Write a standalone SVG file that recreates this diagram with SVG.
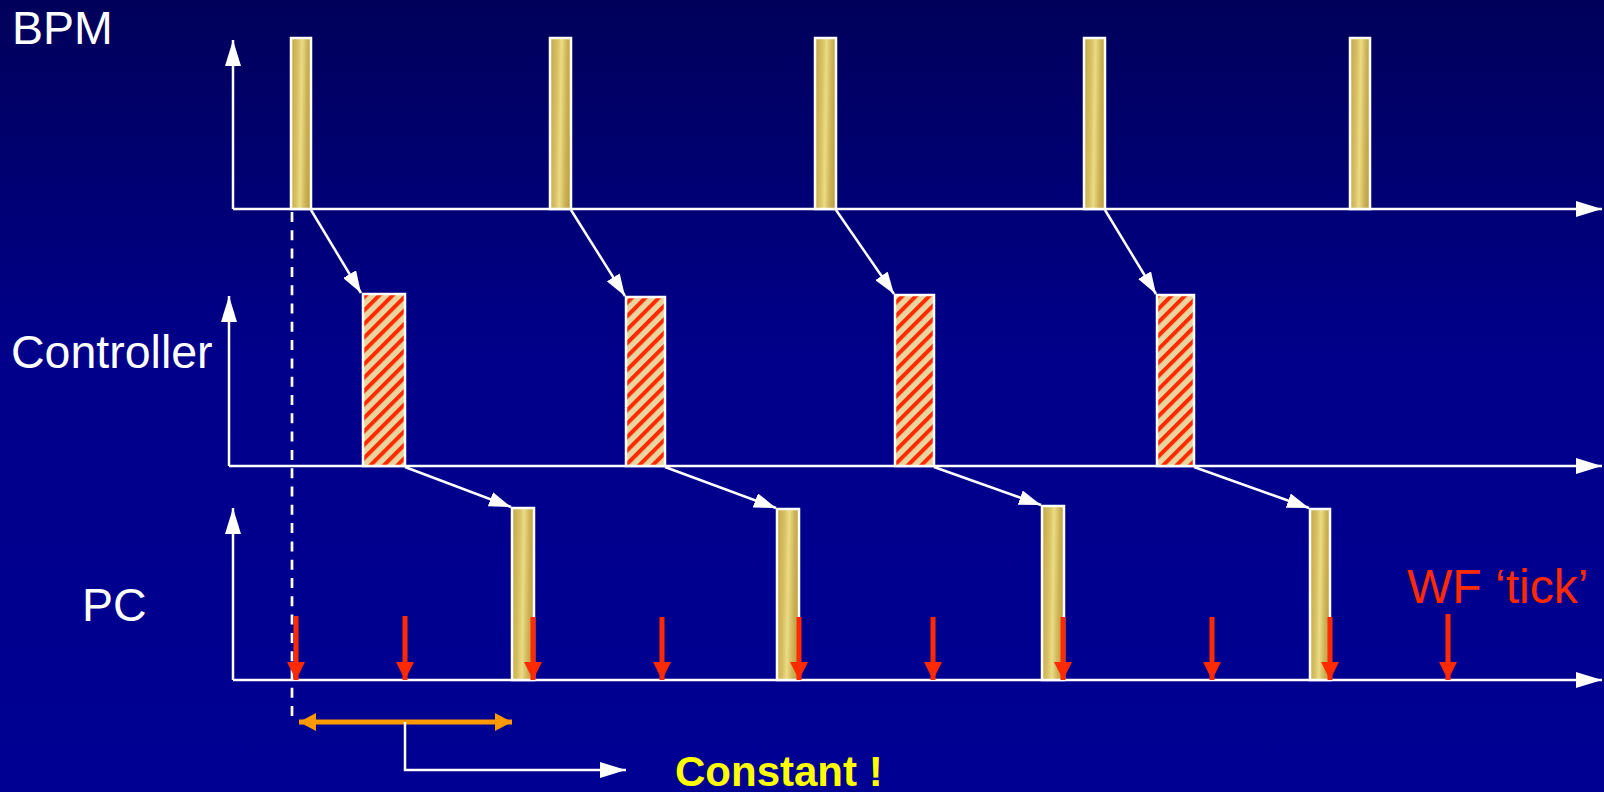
<svg xmlns="http://www.w3.org/2000/svg" width="1604" height="792" viewBox="0 0 1604 792">
  <defs>
    <linearGradient id="bg" x1="0" y1="0" x2="0" y2="1">
      <stop offset="0" stop-color="#00005a"/>
      <stop offset="0.45" stop-color="#00008a"/>
      <stop offset="1" stop-color="#000092"/>
    </linearGradient>
    <linearGradient id="gold" x1="0" y1="0" x2="1" y2="0.12">
      <stop offset="0" stop-color="#c2a64a"/>
      <stop offset="0.35" stop-color="#d8c062"/>
      <stop offset="0.55" stop-color="#eadc86"/>
      <stop offset="0.8" stop-color="#ceb456"/>
      <stop offset="1" stop-color="#bfa246"/>
    </linearGradient>
    <pattern id="hatch" patternUnits="userSpaceOnUse" width="9.5" height="9.5" patternTransform="rotate(45)">
      <rect width="9.5" height="9.5" fill="#e8d6a0"/>
      <rect width="4" height="9.5" fill="#ff2a00"/>
    </pattern>
    <marker id="axisHead" markerUnits="userSpaceOnUse" markerWidth="26" markerHeight="16" refX="26" refY="8" orient="auto">
      <path d="M0,0 L26,8 L0,16 z" fill="#ffffff"/>
    </marker>
    <marker id="linkHead" markerUnits="userSpaceOnUse" markerWidth="22" markerHeight="15" refX="22" refY="7.5" orient="auto">
      <path d="M0,0 L22,7.5 L0,15 z" fill="#ffffff"/>
    </marker>
    <marker id="tickHead" markerUnits="userSpaceOnUse" markerWidth="18" markerHeight="18" refX="18" refY="9" orient="auto">
      <path d="M0,0 L18,9 L0,18 z" fill="#ff2a00"/>
    </marker>
    <marker id="spanHead" markerUnits="userSpaceOnUse" markerWidth="18" markerHeight="18" refX="17" refY="9" orient="auto-start-reverse">
      <path d="M0,0 L17,9 L0,18 z" fill="#ff9900"/>
    </marker>
    <style>
      .axis { stroke: #ffffff; stroke-width: 2.5; fill: none; marker-end: url(#axisHead); }
      .link { stroke: #ffffff; stroke-width: 2.5; fill: none; marker-end: url(#linkHead); }
      .tick { stroke: #ff2a00; stroke-width: 5; marker-end: url(#tickHead); }
      .pulse { fill: url(#gold); stroke: #ffffff; stroke-width: 2.5; }
      .calc { fill: url(#hatch); stroke: #ffffff; stroke-width: 2.5; }
      .label { font-family: "Liberation Sans", Arial, sans-serif; font-size: 46.5px; fill: #ffffff; }
    </style>
  </defs>

  <rect width="1604" height="792" fill="url(#bg)"/>

  <!-- time axes for the three rows -->
  <g id="axes">
    <path class="axis" d="M233,209 V40"/>
    <path class="axis" d="M233,209 H1602"/>
    <path class="axis" d="M229,466 V296"/>
    <path class="axis" d="M229,466 H1602"/>
    <path class="axis" d="M233,680 V508"/>
    <path class="axis" d="M233,680 H1602"/>
  </g>

  <!-- row labels -->
  <g id="labels">
    <text class="label" x="12" y="44">BPM</text>
    <text class="label" x="11" y="368">Controller</text>
    <text class="label" x="82" y="621">PC</text>
  </g>

  <!-- reference time marker -->
  <line id="t0" x1="292" y1="212" x2="292" y2="722" stroke="#ffffff" stroke-width="2.7" stroke-dasharray="10 8.3"/>

  <!-- BPM acquisitions -->
  <g id="bpm">
    <rect id="bpm1" class="pulse" x="291" y="38" width="20" height="171"/>
    <rect id="bpm2" class="pulse" x="550" y="38" width="21" height="171"/>
    <rect id="bpm3" class="pulse" x="815" y="38" width="21" height="171"/>
    <rect id="bpm4" class="pulse" x="1084" y="38" width="21" height="171"/>
    <rect id="bpm5" class="pulse" x="1350" y="38" width="20" height="171"/>
  </g>

  <!-- controller computations -->
  <g id="controller">
    <rect id="ctl1" class="calc" x="363" y="294" width="42" height="172"/>
    <rect id="ctl2" class="calc" x="626" y="297" width="39" height="169"/>
    <rect id="ctl3" class="calc" x="895" y="295" width="39" height="171"/>
    <rect id="ctl4" class="calc" x="1157" y="295" width="37" height="171"/>
  </g>

  <!-- power converter updates -->
  <g id="pc">
    <rect id="pc1" class="pulse" x="512" y="508" width="22" height="172"/>
    <rect id="pc2" class="pulse" x="777" y="509" width="22" height="171"/>
    <rect id="pc3" class="pulse" x="1042" y="506" width="22" height="174"/>
    <rect id="pc4" class="pulse" x="1310" y="509" width="20" height="171"/>
  </g>

  <!-- data flow connectors -->
  <g id="connectors">
    <line class="link" x1="311" y1="210" x2="361" y2="293"/>
    <line class="link" x1="571" y1="210" x2="625" y2="296"/>
    <line class="link" x1="836" y1="210" x2="894" y2="294"/>
    <line class="link" x1="1105" y1="210" x2="1156" y2="294"/>
    <line class="link" x1="405" y1="467" x2="511" y2="507"/>
    <line class="link" x1="665" y1="467" x2="776" y2="508"/>
    <line class="link" x1="934" y1="467" x2="1041" y2="505"/>
    <line class="link" x1="1194" y1="467" x2="1309" y2="508"/>
  </g>

  <!-- waveform ticks -->
  <g id="ticks">
    <line class="tick" x1="296" y1="616" x2="296" y2="680"/>
    <line class="tick" x1="405" y1="616" x2="405" y2="680"/>
    <line class="tick" x1="533" y1="617" x2="533" y2="680"/>
    <line class="tick" x1="662" y1="617" x2="662" y2="680"/>
    <line class="tick" x1="799" y1="617" x2="799" y2="680"/>
    <line class="tick" x1="933" y1="617" x2="933" y2="680"/>
    <line class="tick" x1="1063" y1="617" x2="1063" y2="680"/>
    <line class="tick" x1="1212" y1="617" x2="1212" y2="680"/>
    <line class="tick" x1="1330" y1="617" x2="1330" y2="680"/>
    <line class="tick" x1="1448" y1="614" x2="1448" y2="680"/>
    <text x="1407" y="603" font-family="'Liberation Sans', Arial, sans-serif" font-size="48" fill="#ff2a00">WF ‘tick’</text>
  </g>

  <!-- latency span -->
  <g id="latency">
    <line x1="299" y1="722" x2="512" y2="722" stroke="#ff9900" stroke-width="5" marker-start="url(#spanHead)" marker-end="url(#spanHead)"/>
    <path class="link" d="M405,722 V770 H626" style="marker-end:url(#axisHead)"/>
    <text x="675" y="786" font-family="'Liberation Sans', Arial, sans-serif" font-size="42" font-weight="bold" fill="#ffff00">Constant !</text>
  </g>
</svg>
